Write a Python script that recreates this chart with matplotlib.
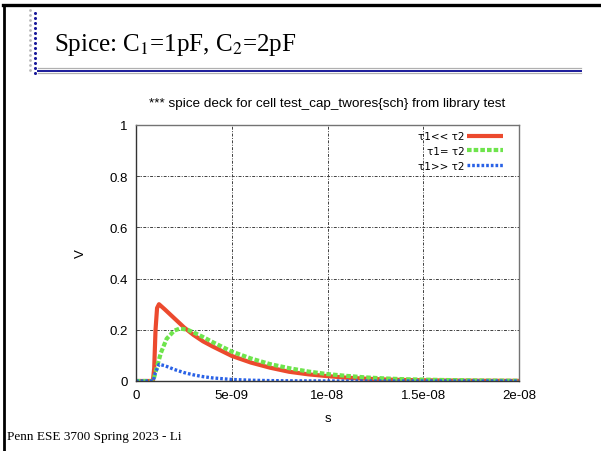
import matplotlib
matplotlib.use("Agg")
import matplotlib.pyplot as plt
from matplotlib.lines import Line2D
import numpy as np

# ---- data (times in seconds) ----
t_red = [0, 0.88e-9, 0.95e-9, 1.02e-9, 1.1e-9, 1.2e-9, 1.5e-9, 2.0e-9, 2.5e-9, 3.0e-9, 3.5e-9,
         4.0e-9, 5.0e-9, 6.0e-9, 7.0e-9, 8.0e-9, 9.0e-9, 10e-9, 11e-9, 12e-9, 13e-9, 14e-9,
         16e-9, 18e-9, 20e-9]
v_red = [0, 0, 0.05, 0.2, 0.285, 0.30, 0.28, 0.245, 0.21, 0.18, 0.155,
         0.135, 0.098, 0.072, 0.052, 0.036, 0.026, 0.019, 0.013, 0.009, 0.006, 0.004,
         0.002, 0.001, 0.0005]

t_green = [0, 0.9e-9, 1.0e-9, 1.15e-9, 1.3e-9, 1.6e-9, 2.0e-9, 2.3e-9, 2.7e-9, 3.0e-9, 3.5e-9,
           4.0e-9, 5.0e-9, 6.0e-9, 7.0e-9, 8.0e-9, 9.0e-9, 10e-9, 11e-9, 12e-9, 13e-9, 14e-9,
           16e-9, 18e-9, 20e-9]
v_green = [0, 0, 0.03, 0.07, 0.11, 0.165, 0.197, 0.205, 0.2, 0.19, 0.172,
           0.152, 0.115, 0.088, 0.066, 0.05, 0.037, 0.027, 0.02, 0.014, 0.01, 0.007,
           0.004, 0.002, 0.001]

t_blue = [0, 0.9e-9, 1.0e-9, 1.2e-9, 1.5e-9, 2.0e-9, 2.5e-9, 3.0e-9, 3.5e-9, 4.0e-9, 5.0e-9,
          6.0e-9, 7.0e-9, 8.0e-9, 10e-9, 20e-9]
v_blue = [0, 0, 0.03, 0.065, 0.06, 0.045, 0.033, 0.024, 0.017, 0.012, 0.006,
          0.003, 0.0015, 0.0008, 0.0002, 0]

labels = ["τ1<< τ2", "τ1= τ2", "τ1>> τ2"]
xticks = [0, 5e-9, 1e-8, 1.5e-8, 2e-8]
xticklabels = ["0", "5e-09", "1e-08", "1.5e-08", "2e-08"]
yticks = [0, 0.2, 0.4, 0.6, 0.8, 1]
yticklabels = ["0", "0.2", "0.4", "0.6", "0.8", "1"]

W, H = 601, 452
fig = plt.figure(figsize=(W / 100, H / 100), dpi=100)
fig.patch.set_facecolor("white")

def fx(px):
    return px / W

def fy(py):
    return 1 - py / H

# slide border
fig.add_artist(Line2D([fx(3), fx(601)], [fy(6), fy(6)], color="black", lw=2.4))
fig.add_artist(Line2D([fx(4), fx(4)], [fy(6), fy(452)], color="black", lw=2.0))

# dotted decoration
for yy in np.arange(11, 76, 5):
    fig.add_artist(Line2D([fx(30)], [fy(yy)], marker="o", ms=2.0, color="#b8b8b8", mec="none"))
    fig.add_artist(Line2D([fx(35)], [fy(yy + 2.5)], marker="o", ms=2.2, color="#1a1a9a", mec="none"))

# rules under title
fig.add_artist(Line2D([fx(38), fx(581)], [fy(69), fy(69)], color="#b0b0b0", lw=0.9))
fig.add_artist(Line2D([fx(38), fx(581)], [fy(71.5), fy(71.5)], color="#1a1a9a", lw=1.4))
fig.add_artist(Line2D([fx(38), fx(581)], [fy(74), fy(74)], color="#b0b0b0", lw=0.9))

fig.text(fx(54), fy(45), "Spice: C$_1$=1pF, C$_2$=2pF", fontsize=18, family="Liberation Serif",
         va="center", ha="left", math_fontfamily="stix")
fig.text(fx(7), fy(437), "Penn ESE 3700 Spring 2023 - Li", fontsize=9.5, family="Liberation Serif",
         va="center", ha="left")

ax = fig.add_axes([fx(136), fy(382), fx(519) - fx(136), (382 - 126) / H])
ax.plot(t_red, v_red, color="#ec4a2e", lw=3.0, label=labels[0], solid_capstyle="butt")
ax.plot(t_green, v_green, color="#6ee44c", lw=3.0, ls=(0, (1.1, 0.5)), label=labels[1])
ax.plot(t_blue, v_blue, color="#2a62e6", lw=2.4, ls=(0, (0.8, 0.6)), label=labels[2])

ax.set_xlim(0, 2e-8)
ax.set_ylim(0, 1)
ax.set_xticks(xticks)
ax.set_xticklabels(xticklabels)
ax.set_yticks(yticks)
ax.set_yticklabels(yticklabels)
ax.tick_params(direction="in", length=3, width=0.6, labelsize=9.5, pad=6, colors="0.3",
               labelcolor="black")
for lab in ax.get_xticklabels() + ax.get_yticklabels():
    lab.set_family("Liberation Sans")
ax.grid(True, color="0.25", lw=0.7, ls=(0, (3, 1.5, 1, 1.5)))
for s in ["left", "bottom"]:
    ax.spines[s].set_color("0.2")
    ax.spines[s].set_linewidth(1.0)
for s in ["top", "right"]:
    ax.spines[s].set_color("0.45")
    ax.spines[s].set_linewidth(1.0)

ax.set_title("*** spice deck for cell test_cap_twores{sch} from library test", fontsize=9.7,
             family="Liberation Sans", pad=14)
ax.set_xlabel("s", fontsize=9.5, family="Liberation Sans", labelpad=8)
ax.set_ylabel("V", fontsize=9.5, family="Liberation Sans", labelpad=16)

leg = ax.legend(loc="upper right", frameon=False, markerfirst=False,
                handlelength=3.5, handletextpad=0.2, labelspacing=0.45,
                borderaxespad=0.2, bbox_to_anchor=(0.975, 1.0),
                prop={"family": "DejaVu Sans", "size": 7.5})

fig.savefig("out.png", dpi=100)
